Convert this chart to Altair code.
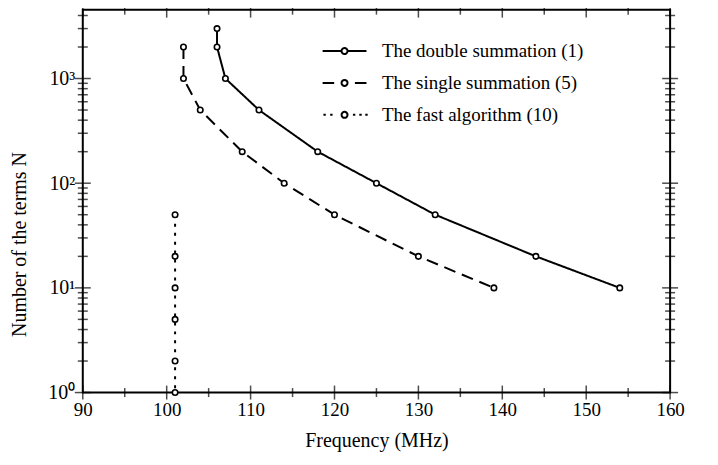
import math
import altair as alt
import pandas as pd

# ---------------- data ----------------
series_names = ["The double summation (1)", "The single summation (5)", "The fast algorithm (10)"]

double_freq = [106, 106, 107, 111, 118, 125, 132, 144, 154]
double_n = [3000, 2000, 1000, 500, 200, 100, 50, 20, 10]

single_freq = [102, 102, 104, 109, 114, 120, 130, 139]
single_n = [2000, 1000, 500, 200, 100, 50, 20, 10]

fast_freq = [101, 101, 101, 101, 101, 101]
fast_n = [50, 20, 10, 5, 2, 1]

x_major = [90, 100, 110, 120, 130, 140, 150, 160]
x_minor = [95, 105, 115, 125, 135, 145, 155]
y_major = [1, 10, 100, 1000]
y_minor = [2, 3, 4, 5, 6, 7, 8, 9, 20, 30, 40, 50, 60, 70, 80, 90,
           200, 300, 400, 500, 600, 700, 800, 900, 2000, 3000, 4000]

rows = []
for name, fs, ns in zip(series_names, [double_freq, single_freq, fast_freq], [double_n, single_n, fast_n]):
    for i, (f, n) in enumerate(zip(fs, ns)):
        rows.append({"series": name, "freq": f, "N": n, "idx": i})
df = pd.DataFrame(rows)

W, H = 589, 384
FONT = "Liberation Serif"

xscale = alt.Scale(domain=[90, 160], nice=False, zero=False)
yscale = alt.Scale(type="log", domain=[1, 4550], nice=False)

xaxis = alt.Axis(values=x_major, ticks=False, domain=False, grid=False, labelFont=FONT,
                 labelFontSize=19, labelColor="black", labelPadding=8, titleFont=FONT,
                 titleFontSize=20, titleFontWeight="normal", titleColor="black", titlePadding=11,
                 labelFlush=False)
ylabel_expr = ("datum.value == 1 ? '10\u2070' : datum.value == 10 ? '10\u00b9' : "
               "datum.value == 100 ? '10\u00b2' : '10\u00b3'")
yaxis = alt.Axis(values=y_major, labelExpr=ylabel_expr, ticks=False, domain=False, grid=False,
                 labelFont=FONT, labelFontSize=20, labelColor="black", labelPadding=8,
                 titleFont=FONT, titleFontSize=20, titleFontWeight="normal", titleColor="black",
                 titlePadding=18, titleY=235, labelFlush=False)

X = lambda: alt.X("freq:Q", scale=xscale, axis=xaxis, title="Frequency (MHz)")
Y = lambda: alt.Y("N:Q", scale=yscale, axis=yaxis, title="Number of the terms  N")

# legend symbols: short sub-paths so every piece is drawn whole under the dash pattern
R = 0.375
arcs = ""
for k in range(8):
    a0, a1 = k * math.pi / 4, (k + 1) * math.pi / 4
    arcs += "M%.3f,%.3fA%.3f,%.3f,0,0,1,%.3f,%.3f" % (
        R * math.cos(a0), R * math.sin(a0), R, R, R * math.cos(a1), R * math.sin(a1))
def segs(pairs):
    return "".join("M%.2f,0H%.2f" % p for p in pairs)
legend_paths = [
    segs([(-2.75, -0.4), (0.4, 2.75)]) + arcs,
    segs([(-2.75, -1.3), (1.3, 2.75)]) + arcs,
    segs([(-2.65, -2.35), (-1.8, -1.5), (1.05, 1.35), (1.85, 2.15), (2.6, 2.9)]) + arcs,
]

def make_legend():
    return alt.Legend(orient="none", legendX=253, legendY=32, title=None,
                      symbolSize=256, symbolStrokeWidth=2,
                      symbolStrokeColor="black", symbolFillColor="white",
                      symbolOpacity=1, labelFont=FONT, labelFontSize=19,
                      labelColor="black", labelOffset=28, rowPadding=12, labelLimit=0)

dash_scale = alt.Scale(domain=series_names, range=[[1, 0], [12, 7], [3, 6]])

lines = alt.Chart(df).mark_line(color="black", strokeWidth=2).encode(
    x=X(), y=Y(),
    strokeDash=alt.StrokeDash("series:N", scale=dash_scale, legend=make_legend()),
    detail="series:N",
    order=alt.Order("idx:Q"),
)

points = alt.Chart(df).mark_point(shape="circle", filled=True, fill="white", stroke="black",
                                  strokeWidth=1.6, size=30, opacity=1).encode(x=X(), y=Y())

legend_layer = alt.Chart(df).mark_point(opacity=0, color="black").encode(
    x=X(), y=Y(),
    shape=alt.Shape("series:N", scale=alt.Scale(domain=series_names, range=legend_paths),
                    legend=make_legend()),
)

# frame ticks as tick marks centred on the frame edges
def xtick_layer(vals, size, ypix, tag):
    d = pd.DataFrame({"freq": vals, "edge": [tag] * len(vals)})
    return alt.Chart(d).mark_tick(color="black", thickness=1.5, size=size).encode(
        x=X(), y=alt.value(ypix))

def ytick_layer(vals, size, xpix, tag):
    d = pd.DataFrame({"N": vals, "edge": [tag] * len(vals)})
    return alt.Chart(d).mark_tick(color="black", thickness=1.5, size=size).encode(
        y=Y(), x=alt.value(xpix))

tick_layers = [
    xtick_layer(x_major, 14, H, "b1"), xtick_layer(x_minor, 9, H, "b2"),
    xtick_layer(x_major, 16, 0, "t1"), xtick_layer(x_minor, 10, 0, "t2"),
    ytick_layer(y_major, 16, 0, "l1"), ytick_layer(y_minor, 10, 0, "l2"),
    ytick_layer(y_major, 16, W, "r1"), ytick_layer(y_minor, 10, W, "r2"),
]

chart = alt.layer(lines, points, legend_layer, *tick_layers).properties(
    width=W, height=H,
    autosize=alt.AutoSizeParams(type="none"),
    padding={"left": 75, "top": 1, "right": 40, "bottom": 70},
    background="white",
).configure_view(stroke="black", strokeWidth=2)

chart.save("out.html", embed_options={"renderer": "svg", "actions": False})
